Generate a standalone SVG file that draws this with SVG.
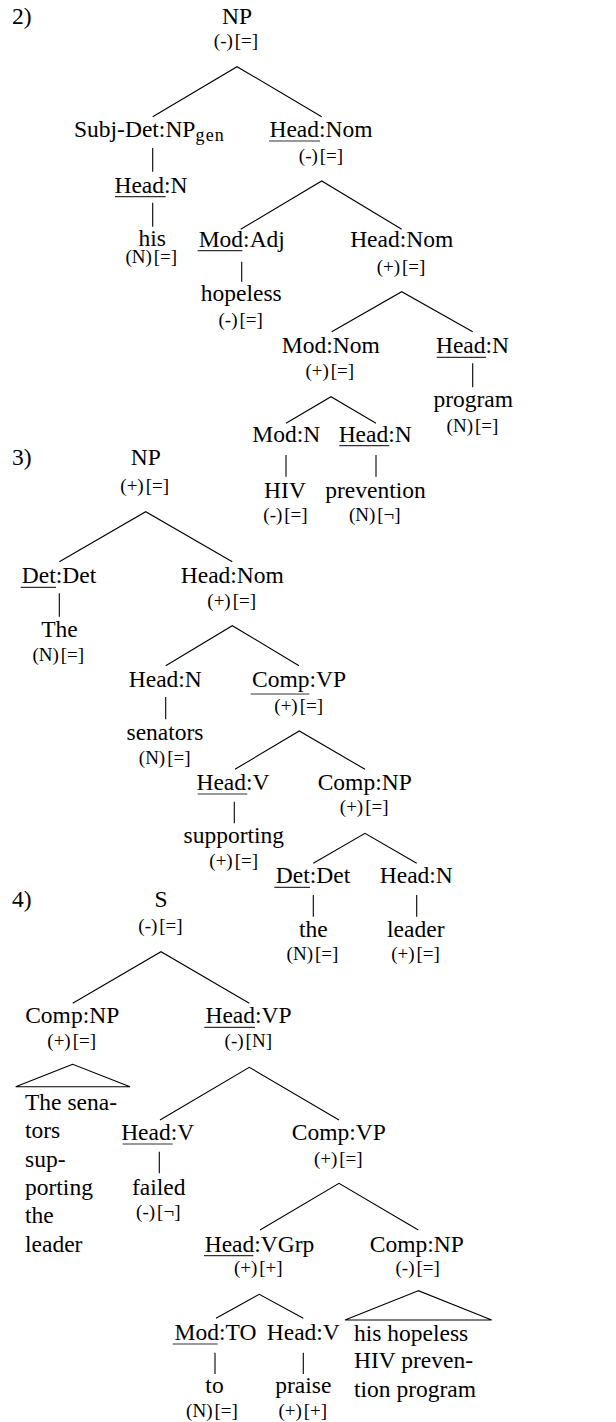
<svg xmlns="http://www.w3.org/2000/svg" width="616" height="1422" viewBox="0 0 616 1422">
<style>
text{font-family:"Liberation Serif","Times New Roman",serif;fill:#000}
.l{font-size:23.5px;text-anchor:middle}
.s{font-size:23.5px}
.f{font-size:19px;text-anchor:middle}
.sub{font-size:18px;letter-spacing:1.2px}
#underlines line{stroke:#333;stroke-width:1.2}
#connectors path{stroke:#000;stroke-width:1.1;fill:none}
</style>
<rect width="616" height="1422" fill="#fff"/>
<g id="connectors">
<path d="M152.7,116.7 L237,66.7 L321.7,116.7"/>
<path d="M152.7,148 V171.7"/>
<path d="M152.7,202.7 V226.7"/>
<path d="M240.7,229.3 L321.7,181 L401.7,229.3"/>
<path d="M241.7,261.7 V281.7"/>
<path d="M331.7,331.7 L401.7,291.7 L472.7,331.7"/>
<path d="M472.7,363.3 V387.3"/>
<path d="M286,423.3 L331,396.7 L376,423.3"/>
<path d="M286,455 V476.7"/>
<path d="M376,455 V476.7"/>
<path d="M59.3,561.7 L145.7,511.7 L232.3,561.7"/>
<path d="M59.3,593.3 V616.7"/>
<path d="M165.7,665.7 L232.3,625.7 L299,665.7"/>
<path d="M165.7,697 V719.3"/>
<path d="M235,769.3 L299.3,731 L365,769.3"/>
<path d="M234.3,801.7 V823.3"/>
<path d="M313.3,863.3 L365,833.3 L416.7,863.3"/>
<path d="M313.3,895 V916.7"/>
<path d="M416.7,895 V916.7"/>
<path d="M72.7,1003.3 L161,951.7 L249.3,1003.3"/>
<path d="M72.7,1064.3 L15.7,1086.7 L130,1086.7 Z"/>
<path d="M160,1120 L249.3,1067.3 L339,1120"/>
<path d="M159.3,1151.7 V1173.3"/>
<path d="M260,1230 L339,1183.3 L418.3,1230"/>
<path d="M418.3,1290.7 L345,1320 L491.7,1320 Z"/>
<path d="M216,1318.3 L259.3,1294.3 L303.3,1318.3"/>
<path d="M215,1352.7 V1374"/>
<path d="M303.3,1352.7 V1374"/>
</g>
<g id="underlines">
<line x1="269" y1="141" x2="320" y2="141"/>
<line x1="115" y1="196.7" x2="165.7" y2="196.7"/>
<line x1="197.7" y1="250.7" x2="242.3" y2="250.7"/>
<line x1="436.7" y1="357.3" x2="486" y2="357.3"/>
<line x1="339.3" y1="445.7" x2="389.3" y2="445.7"/>
<line x1="20.7" y1="587.3" x2="56" y2="587.3"/>
<line x1="250.7" y1="694" x2="309.3" y2="694"/>
<line x1="197.7" y1="794" x2="247.3" y2="794"/>
<line x1="274.3" y1="887.3" x2="310" y2="887.3"/>
<line x1="204.3" y1="1027.3" x2="255" y2="1027.3"/>
<line x1="122.7" y1="1144" x2="172.7" y2="1144"/>
<line x1="204" y1="1255.7" x2="253.3" y2="1255.7"/>
<line x1="172.7" y1="1344" x2="217.7" y2="1344"/>
</g>
<g id="labels">
<text class="s" x="12" y="24">2)</text>
<text class="s" x="12" y="465">3)</text>
<text class="s" x="12" y="906.7">4)</text>
</g>
<g id="t2-np"><text class="l" x="237" y="24">NP</text><text class="f" x="236" y="47">(-)<tspan dx="2">[=]</tspan></text></g>
<g id="t2-subjdet"><text class="s" x="74" y="137">Subj-Det:NP<tspan class="sub" dy="4">gen</tspan></text></g>
<g id="t2-headnom1"><text class="l" x="321" y="137">Head:Nom</text><text class="f" x="321" y="161.5">(-)<tspan dx="2">[=]</tspan></text></g>
<g id="t2-headn1"><text class="l" x="151" y="192.7">Head:N</text></g>
<g id="t2-his"><text class="l" x="152.3" y="245.5">his</text><text class="f" x="151.3" y="262.5">(N)<tspan dx="2">[=]</tspan></text></g>
<g id="t2-modadj"><text class="l" x="241.8" y="246.7">Mod:Adj</text></g>
<g id="t2-hopeless"><text class="l" x="241.3" y="301">hopeless</text><text class="f" x="240.7" y="325.5">(-)<tspan dx="2">[=]</tspan></text></g>
<g id="t2-headnom2"><text class="l" x="401.7" y="246.7">Head:Nom</text><text class="f" x="401" y="273">(+)<tspan dx="2">[=]</tspan></text></g>
<g id="t2-modnom"><text class="l" x="330.8" y="353.3">Mod:Nom</text><text class="f" x="329.8" y="377">(+)<tspan dx="2">[=]</tspan></text></g>
<g id="t2-headn2"><text class="l" x="472.5" y="353.3">Head:N</text></g>
<g id="t2-program"><text class="l" x="473.2" y="407.3">program</text><text class="f" x="472.5" y="431.5">(N)<tspan dx="2">[=]</tspan></text></g>
<g id="t2-modn"><text class="l" x="286.2" y="441.7">Mod:N</text></g>
<g id="t2-headn3"><text class="l" x="375.2" y="441.7">Head:N</text></g>
<g id="t2-hiv"><text class="l" x="285" y="498.3">HIV</text><text class="f" x="285.5" y="520.5">(-)<tspan dx="2">[=]</tspan></text></g>
<g id="t2-prevention"><text class="l" x="375.5" y="498.3">prevention</text><text class="f" x="374.8" y="520.5">(N)<tspan dx="2">[¬]</tspan></text></g>
<g id="t3-np"><text class="l" x="145.8" y="465">NP</text><text class="f" x="144.7" y="491.5">(+)<tspan dx="2">[=]</tspan></text></g>
<g id="t3-det"><text class="l" x="59" y="583.3">Det:Det</text></g>
<g id="t3-the"><text class="l" x="59.5" y="636.7">The</text><text class="f" x="58.3" y="660.5">(N)<tspan dx="2">[=]</tspan></text></g>
<g id="t3-headnom"><text class="l" x="232.3" y="583.3">Head:Nom</text><text class="f" x="231.7" y="606.5">(+)<tspan dx="2">[=]</tspan></text></g>
<g id="t3-headn"><text class="l" x="165.3" y="686.7">Head:N</text></g>
<g id="t3-senators"><text class="l" x="165" y="740">senators</text><text class="f" x="164.7" y="764">(N)<tspan dx="2">[=]</tspan></text></g>
<g id="t3-compvp"><text class="l" x="299" y="686.7">Comp:VP</text><text class="f" x="298.7" y="711.5">(+)<tspan dx="2">[=]</tspan></text></g>
<g id="t3-headv"><text class="l" x="233" y="790">Head:V</text></g>
<g id="t3-supporting"><text class="l" x="233.8" y="843.3">supporting</text><text class="f" x="233.7" y="866.5">(+)<tspan dx="2">[=]</tspan></text></g>
<g id="t3-compnp"><text class="l" x="364.7" y="790">Comp:NP</text><text class="f" x="364.2" y="813">(+)<tspan dx="2">[=]</tspan></text></g>
<g id="t3-det2"><text class="l" x="313" y="883.3">Det:Det</text></g>
<g id="t3-the2"><text class="l" x="313.3" y="936.7">the</text><text class="f" x="312.5" y="960">(N)<tspan dx="2">[=]</tspan></text></g>
<g id="t3-headn2"><text class="l" x="416.3" y="883.3">Head:N</text></g>
<g id="t3-leader"><text class="l" x="415.8" y="936.7">leader</text><text class="f" x="415.5" y="960">(+)<tspan dx="2">[=]</tspan></text></g>
<g id="t4-s"><text class="l" x="161" y="906.7">S</text><text class="f" x="160.5" y="931.5">(-)<tspan dx="2">[=]</tspan></text></g>
<g id="t4-compnp"><text class="l" x="72.2" y="1023.3">Comp:NP</text><text class="f" x="71.7" y="1047">(+)<tspan dx="2">[=]</tspan></text></g>
<g id="t4-compnp-yield">
<text class="s" x="25" y="1109.5">The sena-</text>
<text class="s" x="25" y="1138">tors</text>
<text class="s" x="25" y="1166.5">sup-</text>
<text class="s" x="25" y="1195">porting</text>
<text class="s" x="25" y="1223.3">the</text>
<text class="s" x="25" y="1251.7">leader</text>
</g>
<g id="t4-headvp"><text class="l" x="248.5" y="1023.3">Head:VP</text><text class="f" x="248.3" y="1047">(-)<tspan dx="2">[N]</tspan></text></g>
<g id="t4-headv"><text class="l" x="157.7" y="1140">Head:V</text></g>
<g id="t4-failed"><text class="l" x="158.8" y="1195">failed</text><text class="f" x="158.3" y="1218">(-)<tspan dx="2">[¬]</tspan></text></g>
<g id="t4-compvp"><text class="l" x="338.8" y="1140">Comp:VP</text><text class="f" x="338.3" y="1165">(+)<tspan dx="2">[=]</tspan></text></g>
<g id="t4-headvgrp"><text class="l" x="259.5" y="1251.7">Head:VGrp</text><text class="f" x="258.3" y="1274">(+)<tspan dx="2">[+]</tspan></text></g>
<g id="t4-compnp2"><text class="l" x="416.8" y="1251.7">Comp:NP</text><text class="f" x="417.7" y="1274">(-)<tspan dx="2">[=]</tspan></text></g>
<g id="t4-compnp2-yield">
<text class="s" x="354" y="1340.7">his hopeless</text>
<text class="s" x="354" y="1368.3">HIV preven-</text>
<text class="s" x="354" y="1396.7">tion program</text>
</g>
<g id="t4-modto"><text class="l" x="215.5" y="1340">Mod:TO</text></g>
<g id="t4-headv2"><text class="l" x="303.3" y="1340">Head:V</text></g>
<g id="t4-to"><text class="l" x="214.5" y="1393.3">to</text><text class="f" x="212" y="1416.5">(N)<tspan dx="2">[=]</tspan></text></g>
<g id="t4-praise"><text class="l" x="303.3" y="1393.3">praise</text><text class="f" x="302.8" y="1416.5">(+)<tspan dx="2">[+]</tspan></text></g>
</svg>
